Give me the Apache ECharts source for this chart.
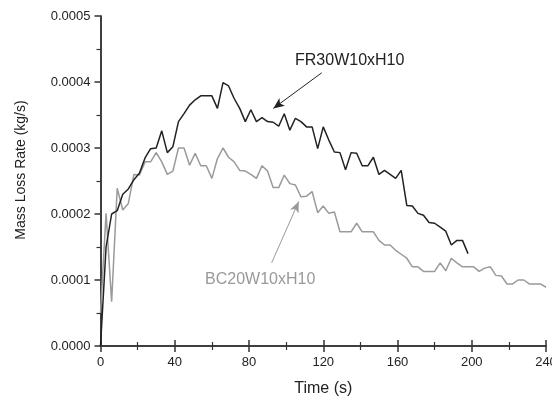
<!DOCTYPE html>
<html>
<head>
<meta charset="utf-8">
<script src="https://cdn.jsdelivr.net/npm/echarts@6/dist/echarts.min.js"></script>
<style>
html,body{margin:0;padding:0;background:#fff;}
#c{width:552px;height:398px;}
</style>
</head>
<body>
<div id="c"></div>
<script>
// Time (s) for each series
var frTime = [0,3,6,9,12,15,18,21,24,27,30,33,36,39,42,45,48,51,54,57,60,63,66,69,72,75,78,81,84,87,90,93,96,99,102,105,108,111,114,117,120,123,126,129,132,135,138,141,144,147,150,153,156,159,162,165,168,171,174,177,180,183,186,189,192,195,198];
// Mass loss rate FR30W10xH10 (kg/s)
var frRate = [0,1.5e-4,2.0e-4,2.05e-4,2.3e-4,2.38e-4,2.52e-4,2.62e-4,2.85e-4,2.99e-4,3.0e-4,3.26e-4,2.93e-4,3.02e-4,3.40e-4,3.52e-4,3.65e-4,3.73e-4,3.79e-4,3.79e-4,3.79e-4,3.60e-4,3.99e-4,3.94e-4,3.75e-4,3.60e-4,3.40e-4,3.58e-4,3.40e-4,3.46e-4,3.40e-4,3.39e-4,3.33e-4,3.52e-4,3.27e-4,3.45e-4,3.40e-4,3.32e-4,3.32e-4,2.99e-4,3.32e-4,3.12e-4,2.94e-4,2.93e-4,2.67e-4,2.93e-4,2.92e-4,2.73e-4,2.73e-4,2.86e-4,2.60e-4,2.66e-4,2.60e-4,2.54e-4,2.66e-4,2.13e-4,2.12e-4,2.01e-4,1.98e-4,1.87e-4,1.86e-4,1.80e-4,1.74e-4,1.53e-4,1.60e-4,1.60e-4,1.40e-4];
var bcTime = [0,3,6,9,12,15,18,21,24,27,30,33,36,39,42,45,48,51,54,57,60,63,66,69,72,75,78,81,84,87,90,93,96,99,102,105,108,111,114,117,120,123,126,129,132,135,138,141,144,147,150,153,156,159,162,165,168,171,174,177,180,183,186,189,192,195,198,201,204,207,210,213,216,219,222,225,228,231,234,237,240];
// Mass loss rate BC20W10xH10 (kg/s)
var bcRate = [0.5e-4,2.01e-4,0.67e-4,2.39e-4,2.06e-4,2.16e-4,2.6e-4,2.59e-4,2.79e-4,2.79e-4,2.93e-4,2.79e-4,2.60e-4,2.65e-4,3.00e-4,3.00e-4,2.74e-4,2.92e-4,2.73e-4,2.73e-4,2.54e-4,2.84e-4,3.00e-4,2.86e-4,2.79e-4,2.66e-4,2.65e-4,2.60e-4,2.54e-4,2.73e-4,2.65e-4,2.40e-4,2.40e-4,2.59e-4,2.46e-4,2.44e-4,2.26e-4,2.27e-4,2.34e-4,2.02e-4,2.12e-4,2.01e-4,2.03e-4,1.73e-4,1.73e-4,1.73e-4,1.86e-4,1.73e-4,1.73e-4,1.73e-4,1.60e-4,1.53e-4,1.53e-4,1.45e-4,1.39e-4,1.33e-4,1.20e-4,1.20e-4,1.13e-4,1.13e-4,1.13e-4,1.26e-4,1.14e-4,1.33e-4,1.26e-4,1.20e-4,1.20e-4,1.20e-4,1.13e-4,1.18e-4,1.20e-4,1.07e-4,1.06e-4,0.94e-4,0.94e-4,1.00e-4,1.00e-4,0.94e-4,0.94e-4,0.94e-4,0.89e-4];

var xTicks = [0,40,80,120,160,200,240];
var yTicks = [0,0.0001,0.0002,0.0003,0.0004,0.0005];

// annotation anchors in data coordinates
var frLabel = {text:'FR30W10xH10', at:[104.8,4.32e-4]};
var frArrow = {from:[119.2,4.14e-4], to:[93.1,3.60e-4]};
var bcLabel = {text:'BC20W10xH10', at:[56.3,1.01e-4]};
var bcArrow = {from:[92.2,1.26e-4], to:[106.8,2.19e-4]};

function pairs(t, v){ return t.map(function(x,i){ return [x, v[i]]; }); }

var axisColor = '#333';
var font = 'Liberation Sans, Arial, sans-serif';
var chart = echarts.init(document.getElementById('c'), null, {renderer:'canvas'});

var option = {
  animation:false,
  backgroundColor:'#fff',
  grid:{left:100.5, right:6, top:16, bottom:52, containLabel:false, outerBoundsMode:'none'},
  xAxis:[{
    type:'value', min:xTicks[0], max:xTicks[xTicks.length-1], interval:40,
    position:'bottom',
    name:'Time (s)', nameLocation:'middle', nameGap:35,
    nameTextStyle:{fontFamily:font, fontSize:16, color:'#222'},
    axisLine:{show:true, lineStyle:{color:axisColor, width:1.5}},
    axisTick:{show:true, inside:false, length:6, lineStyle:{color:axisColor, width:1.5}},
    minorTick:{show:true, splitNumber:2, length:4, lineStyle:{color:axisColor, width:1.2}},
    axisLabel:{fontFamily:font, fontSize:13, color:'#222', margin:10, hideOverlap:false},
    splitLine:{show:false}
  },{
    type:'value', min:0, max:240, interval:40, position:'top',
    axisLine:{show:true, lineStyle:{color:axisColor, width:1.5}},
    axisTick:{show:true, inside:false, length:6, lineStyle:{color:axisColor, width:1.5}},
    minorTick:{show:true, splitNumber:2, length:4, lineStyle:{color:axisColor, width:1.2}},
    axisLabel:{show:false}, splitLine:{show:false}
  }],
  yAxis:[{
    type:'value', min:yTicks[0], max:yTicks[yTicks.length-1], interval:0.0001,
    position:'left',
    axisLine:{show:true, lineStyle:{color:axisColor, width:1.5}},
    axisTick:{show:true, inside:false, length:6, lineStyle:{color:axisColor, width:1.5}},
    minorTick:{show:true, splitNumber:2, length:4, lineStyle:{color:axisColor, width:1.2}},
    axisLabel:{fontFamily:font, fontSize:13, color:'#222', margin:10,
      formatter:function(v){ return v.toFixed(4); }},
    splitLine:{show:false}
  },{
    type:'value', min:0, max:0.0005, interval:0.0001, position:'right',
    axisLine:{show:true, lineStyle:{color:axisColor, width:1.5}},
    axisTick:{show:false}, axisLabel:{show:false}, splitLine:{show:false}
  }],
  series:[{
    name:'FR30W10xH10', type:'line', xAxisIndex:0, yAxisIndex:0,
    data:pairs(frTime, frRate), showSymbol:false, symbol:'none',
    lineStyle:{color:'#222', width:1.5}, z:3,
    markLine:{silent:true, symbol:['none','arrow'], symbolSize:[7,11],
      label:{show:false}, lineStyle:{color:'#222', width:1, type:'solid'},
      data:[[{coord:frArrow.from},{coord:frArrow.to}]]}
  },{
    name:'BC20W10xH10', type:'line', xAxisIndex:0, yAxisIndex:0,
    data:pairs(bcTime, bcRate), showSymbol:false, symbol:'none',
    lineStyle:{color:'#9a9a9a', width:1.5}, z:2,
    markLine:{silent:true, symbol:['none','arrow'], symbolSize:[7,11],
      label:{show:false}, lineStyle:{color:'#9a9a9a', width:1, type:'solid'},
      data:[[{coord:bcArrow.from},{coord:bcArrow.to}]]}
  }]
};
chart.setOption(option);

var p1 = chart.convertToPixel({xAxisIndex:0, yAxisIndex:0}, frLabel.at);
var p2 = chart.convertToPixel({xAxisIndex:0, yAxisIndex:0}, bcLabel.at);
chart.setOption({
  graphic:[
    {type:'text', x:p1[0], y:p1[1], style:{text:frLabel.text, fill:'#222', font:'16px '+font, textVerticalAlign:'middle', textAlign:'left'}},
    {type:'text', x:p2[0], y:p2[1], style:{text:bcLabel.text, fill:'#999', font:'16px '+font, textVerticalAlign:'middle', textAlign:'left'}},
    {type:'text', x:21, y:170, rotation:Math.PI/2, style:{text:'Mass Loss Rate (kg/s)', fill:'#222', font:'14px '+font, textVerticalAlign:'middle', textAlign:'center'}}
  ]
});
</script>
</body>
</html>
